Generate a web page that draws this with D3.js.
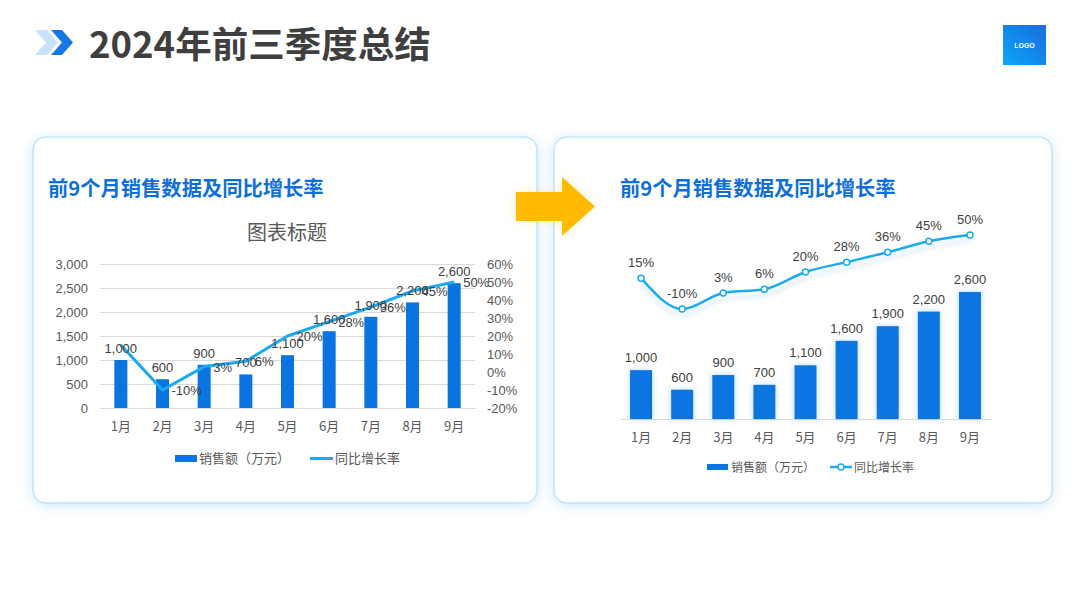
<!DOCTYPE html>
<html><head><meta charset="utf-8">
<script src="https://cdn.jsdelivr.net/npm/d3@7"></script>
<style>
html,body{margin:0;padding:0;background:#fff;}
svg{display:block;}
</style></head>
<body>
<svg id="c" width="1080" height="595"></svg>
<script>
const months = ['1月','2月','3月','4月','5月','6月','7月','8月','9月'];
const sales = [1000,600,900,700,1100,1600,1900,2200,2600];
const growth = [15,-10,3,6,20,28,36,45,50];
const salesTicks = [0,500,1000,1500,2000,2500,3000];
const growthTicks = [-20,-10,0,10,20,30,40,50,60];
const seriesNames = ['销售额（万元）','同比增长率'];
const pageTitle = '2024年前三季度总结';
const cardTitle = '前9个月销售数据及同比增长率';
const chartTitle = '图表标题';

const NUM = '"Liberation Sans", Arial, "Noto Sans CJK SC", sans-serif';
const CJK = '"Noto Sans CJK SC", "Liberation Sans", sans-serif';
const BAR = '#0A74E0', LINE = '#1AAAF0', TXT = '#595959';
const fmt = d3.format(',');

const svg = d3.select('#c');
const defs = svg.append('defs');
const glow = defs.append('filter').attr('id','cardGlow').attr('x','-10%').attr('y','-10%').attr('width','120%').attr('height','120%');
glow.append('feDropShadow').attr('dx',0).attr('dy',2).attr('stdDeviation',6).attr('flood-color','#7cc4f5').attr('flood-opacity',0.4);
const barGlow = defs.append('filter').attr('id','barGlow').attr('x','-60%').attr('y','-20%').attr('width','220%').attr('height','140%');
barGlow.append('feDropShadow').attr('dx',0).attr('dy',0).attr('stdDeviation',3).attr('flood-color','#5aaaf5').attr('flood-opacity',0.45);
const lineShadow = defs.append('filter').attr('id','lineShadow').attr('x','-10%').attr('y','-30%').attr('width','120%').attr('height','180%');
lineShadow.append('feDropShadow').attr('dx',0).attr('dy',6).attr('stdDeviation',2).attr('flood-color','#3a8ee8').attr('flood-opacity',0.22);
const arrowGlow = defs.append('filter').attr('id','arrowGlow').attr('x','-30%').attr('y','-30%').attr('width','160%').attr('height','160%');
arrowGlow.append('feDropShadow').attr('dx',0).attr('dy',0).attr('stdDeviation',6).attr('flood-color','#ffd866').attr('flood-opacity',0.35);
const logoGrad = defs.append('linearGradient').attr('id','logoGrad').attr('x1','0').attr('y1','1').attr('x2','1').attr('y2','0');
logoGrad.append('stop').attr('offset','0').attr('stop-color','#0AA6F7');
logoGrad.append('stop').attr('offset','1').attr('stop-color','#1A6BE0');

// header
svg.append('path').attr('d','M35,30 L47,30 L58,42.5 L47,55 L35,55 L46,42.5 Z').attr('fill','#C9E2FB');
svg.append('path').attr('d','M51,30 L62,30 L73,42.5 L62,55 L51,55 L62,42.5 Z').attr('fill','#1677E6');
svg.append('text').attr('x',89).attr('y',58).text(pageTitle)
  .attr('font-family',CJK).attr('font-weight',700).attr('font-size',36.5).attr('fill','#3F3F3F');
svg.append('rect').attr('x',1003).attr('y',25).attr('width',43).attr('height',40).attr('fill','url(#logoGrad)');
svg.append('text').attr('x',1024.5).attr('y',48).attr('text-anchor','middle').text('LOGO')
  .attr('font-family',NUM).attr('font-weight',700).attr('font-size',7).attr('fill','#fff');

// cards
[[33,137,504,366],[554,137,498,366]].forEach(([x,y,w,h])=>{
  svg.append('rect').attr('x',x).attr('y',y).attr('width',w).attr('height',h).attr('rx',13)
    .attr('fill','#fff').attr('stroke','#C4E4FA').attr('stroke-width',1.5).attr('filter','url(#cardGlow)');
});
[[48],[620]].forEach(([x])=>{
  svg.append('text').attr('x',x).attr('y',196).text(cardTitle)
    .attr('font-family',CJK).attr('font-weight',700).attr('font-size',20.3).attr('fill','#0E6FD8');
});

// ---------- Left chart (Excel style) ----------
(function(){
  const g = svg.append('g');
  const x = d3.scaleBand().domain(months).range([100,475]);
  const y = d3.scaleLinear().domain([0,3000]).range([408,264]);
  const y2 = d3.scaleLinear().domain([-20,60]).range([408,264]);
  const bw = 13;
  g.append('text').attr('x',287).attr('y',240).attr('text-anchor','middle').text(chartTitle)
    .attr('font-family',CJK).attr('font-size',20).attr('fill',TXT);
  const ya = g.append('g').attr('transform','translate(100,0)')
    .call(d3.axisLeft(y).tickValues(salesTicks).tickFormat(fmt).tickSize(-375).tickPadding(12));
  ya.select('.domain').remove();
  ya.selectAll('line').attr('stroke','#D9D9D9');
  ya.selectAll('text').attr('font-family',NUM).attr('font-size',13).attr('fill',TXT);
  const yb = g.append('g').attr('transform','translate(475,0)')
    .call(d3.axisRight(y2).tickValues(growthTicks).tickFormat(d=>d+'%').tickSize(0).tickPadding(12));
  yb.select('.domain').remove();
  yb.selectAll('text').attr('font-family',NUM).attr('font-size',13).attr('fill',TXT);
  const xa = g.append('g').attr('transform','translate(0,408)')
    .call(d3.axisBottom(x).tickSize(0).tickPadding(14));
  xa.select('.domain').attr('stroke','#D9D9D9');
  xa.selectAll('text').attr('font-family',CJK).attr('font-size',13).attr('fill',TXT);
  g.selectAll('rect.b').data(sales).join('rect').attr('class','b')
    .attr('x',(d,i)=>x(months[i])+x.bandwidth()/2-bw/2).attr('y',d=>y(d))
    .attr('width',bw).attr('height',d=>408-y(d)).attr('fill',BAR);
  g.append('path').datum(growth)
    .attr('d',d3.line().x((d,i)=>x(months[i])+x.bandwidth()/2).y(d=>y2(d)))
    .attr('fill','none').attr('stroke',LINE).attr('stroke-width',3).attr('stroke-linejoin','round');
  g.selectAll('text.bl').data(sales).join('text').attr('class','bl')
    .attr('x',(d,i)=>x(months[i])+x.bandwidth()/2).attr('y',d=>y(d)-7).attr('text-anchor','middle')
    .text(fmt).attr('font-family',NUM).attr('font-size',13).attr('fill','#404040');
  g.selectAll('text.ll').data(growth).join('text').attr('class','ll')
    .attr('x',(d,i)=>x(months[i])+x.bandwidth()/2+9).attr('y',d=>y2(d)+5)
    .text(d=>d+'%').attr('font-family',NUM).attr('font-size',13).attr('fill','#404040')
    .attr('display',(d,i)=>i===0?'none':null);
  // legend
  g.append('rect').attr('x',175).attr('y',455).attr('width',22).attr('height',7).attr('fill',BAR);
  g.append('text').attr('x',199).attr('y',463).text(seriesNames[0]).attr('font-family',CJK).attr('font-size',13).attr('fill',TXT);
  g.append('line').attr('x1',310).attr('x2',333).attr('y1',458.5).attr('y2',458.5).attr('stroke',LINE).attr('stroke-width',3);
  g.append('text').attr('x',335).attr('y',463).text(seriesNames[1]).attr('font-family',CJK).attr('font-size',13).attr('fill',TXT);
})();

// arrow
svg.append('path').attr('d','M516,192 L562,192 L562,177 L595,206.5 L562,236 L562,221 L516,221 Z')
  .attr('fill','#FFBB00').attr('filter','url(#arrowGlow)');

// ---------- Right chart (styled) ----------
(function(){
  const g = svg.append('g');
  const x = d3.scaleBand().domain(months).range([620.5,990.5]);
  const y = d3.scaleLinear().domain([0,3000]).range([419,272.5]);
  const y2 = d3.scaleLinear().domain([-10,50]).range([309,235]);
  const bw = 22;
  const cx = (i)=>x(months[i])+x.bandwidth()/2;
  const xa = g.append('g').attr('transform','translate(0,419)')
    .call(d3.axisBottom(x).tickSize(0).tickPadding(14));
  xa.select('.domain').attr('stroke','#D9D9D9');
  xa.selectAll('text').attr('font-family',CJK).attr('font-size',13).attr('fill',TXT);
  g.selectAll('rect.b').data(sales).join('rect').attr('class','b')
    .attr('x',(d,i)=>cx(i)-bw/2).attr('y',d=>y(d))
    .attr('width',bw).attr('height',d=>419-y(d)).attr('fill',BAR).attr('filter','url(#barGlow)');
  g.selectAll('text.bl').data(sales).join('text').attr('class','bl')
    .attr('x',(d,i)=>cx(i)).attr('y',d=>y(d)-8).attr('text-anchor','middle')
    .text(fmt).attr('font-family',NUM).attr('font-size',13).attr('fill','#404040');
  g.append('path').datum(growth)
    .attr('d',d3.line().curve(d3.curveMonotoneX).x((d,i)=>cx(i)).y(d=>y2(d)))
    .attr('fill','none').attr('stroke',LINE).attr('stroke-width',2.5).attr('filter','url(#lineShadow)');
  g.selectAll('circle.p').data(growth).join('circle').attr('class','p')
    .attr('cx',(d,i)=>cx(i)).attr('cy',d=>y2(d)).attr('r',3)
    .attr('fill','#fff').attr('stroke',LINE).attr('stroke-width',1.5);
  g.selectAll('text.ll').data(growth).join('text').attr('class','ll')
    .attr('x',(d,i)=>cx(i)).attr('y',d=>y2(d)-11).attr('text-anchor','middle')
    .text(d=>d+'%').attr('font-family',NUM).attr('font-size',13).attr('fill','#404040');
  // legend
  g.append('rect').attr('x',707).attr('y',464).attr('width',21).attr('height',6).attr('fill',BAR);
  g.append('text').attr('x',731).attr('y',471.5).text(seriesNames[0]).attr('font-family',CJK).attr('font-size',12).attr('fill',TXT);
  g.append('line').attr('x1',830).attr('x2',852).attr('y1',467).attr('y2',467).attr('stroke',LINE).attr('stroke-width',2.5);
  g.append('circle').attr('cx',841).attr('cy',467).attr('r',3).attr('fill','#fff').attr('stroke',LINE).attr('stroke-width',1.5);
  g.append('text').attr('x',854).attr('y',471.5).text(seriesNames[1]).attr('font-family',CJK).attr('font-size',12).attr('fill',TXT);
})();
</script>
</body></html>
